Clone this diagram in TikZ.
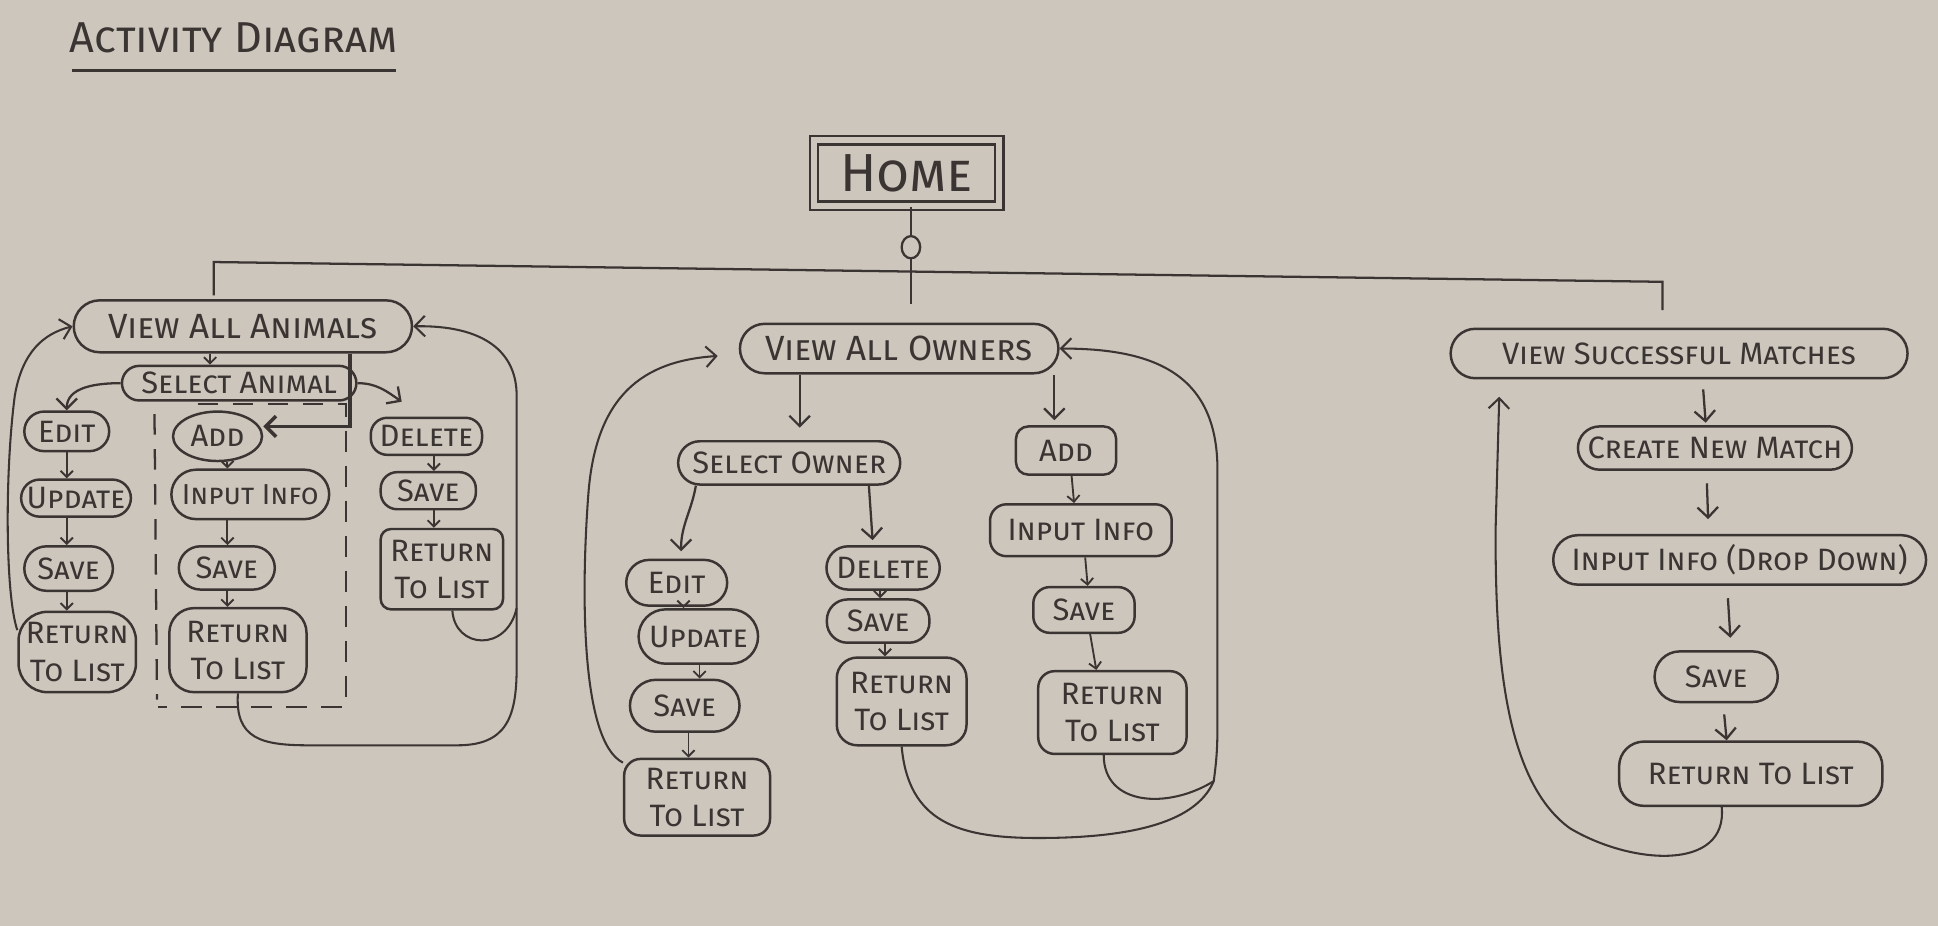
\documentclass[tikz,border=0pt]{standalone}
\usepackage{fontspec}
\setmainfont{Fira Sans}
\usetikzlibrary{arrows.meta,shapes.misc,shapes.geometric,calc}
\definecolor{paper}{RGB}{205,198,189}
\definecolor{ink}{RGB}{58,52,50}

% \abox[options]{name}{x1}{y1}{x2}{y2}{label}: a box spanning the given corners
\newcommand\abox[7][]{%
  \node[act,#1,minimum width={(#5-#3)*0.6pt},minimum height={(#6-#4)*0.6pt}]
    (#2) at ({(#3+#5)/2},{(#4+#6)/2}) {#7};}

\begin{document}
\begin{tikzpicture}[x=0.6pt,y=-0.6pt,
  act/.style={draw=ink, text=ink, line width=1.2pt, align=center, inner sep=1pt,
              font=\fontsize{15}{18}\selectfont\scshape},
  lg/.style={font=\fontsize{17}{20}\selectfont\scshape},
  sm/.style={font=\fontsize{14}{18}\selectfont\scshape},
  pill/.style={rounded rectangle},
  soft/.style={rectangle, rounded corners=#1},
  soft/.default=5pt,
  oval/.style={ellipse},
  wire/.style={draw=ink, line width=1.1pt},
  lane/.style={draw=ink, line width=1.1pt, dash pattern=on 10pt off 7pt},
  flow/.style={draw=ink, line width=1.1pt, -{Straight Barb[length=5pt,width=10pt]}},
  hop/.style={draw=ink, line width=0.9pt, -{Straight Barb[length=3pt,width=6pt]}},
  back/.style={draw=ink, line width=1pt, -{Straight Barb[length=5pt,width=10pt]}},
]
\useasboundingbox (0,0) rectangle (1568,749);
\fill[paper] (0,0) rectangle (1568,749);

% heading
\node[text=ink, font=\fontsize{21}{24}\selectfont\scshape, inner sep=0pt] (title) at (189,31) {Activity Diagram};
\draw[ink, line width=1.6pt] (58,57) -- (320,57);

% start node and the bus to the three lists
\node[draw=ink, text=ink, line width=1.1pt, double=paper, double distance=3pt,
      minimum width={150*0.6pt}, minimum height={53*0.6pt}, inner sep=0pt,
      font=\fontsize{26}{28}\selectfont\scshape] (home) at (733.5,140) {Home};
\node[draw=ink, line width=1.1pt, ellipse, inner sep=0pt,
      minimum width={15*0.6pt}, minimum height={18*0.6pt}] (junc) at (737,200) {};

% ---------------- animals ----------------
\abox[pill,lg]{vaa}{58}{243}{335}{285}{View All Animals}
\abox[pill]{sela}{97}{296}{290}{324}{Select Animal}
\abox[pill]{aedit}{18}{333}{90}{365}{Edit}
\abox[pill]{aupd}{18}{388}{105}{418}{Update}
\abox[pill]{asave1}{18}{442}{93}{478}{Save}
\abox[soft=14pt]{artl1}{15}{495}{110}{560}{Return\\To List}
\abox[oval]{aadd}{140}{333}{212}{373}{Add}
\abox[pill,sm]{ainp}{137}{380}{268}{420}{Input Info}
\abox[pill]{asave2}{143}{442}{224}{477}{Save}
\abox[soft=12pt]{artl2}{137}{492}{248}{560}{Return\\To List}
\abox[soft=8pt]{adel}{300}{338}{390}{368}{Delete}
\abox[soft=8pt]{asave3}{308}{382}{385}{412}{Save}
\abox[soft=5pt]{artl3}{308}{428}{407}{493}{Return\\To List}

% ---------------- owners ----------------
\abox[pill,lg]{vao}{597}{262}{858}{302}{View All Owners}
\abox[pill]{sown}{547}{357}{730}{392}{Select Owner}
\abox[pill]{oedit}{505}{453}{590}{490}{Edit}
\abox[pill]{oupd}{515}{493}{615}{537}{Update}
\abox[pill]{osave1}{508}{550}{600}{592}{Save}
\abox[soft=8pt]{ortl1}{505}{614}{623}{676}{Return\\To List}
\abox[pill]{odel}{667}{442}{762}{477}{Delete}
\abox[soft=10pt]{osave2}{669}{485}{752}{520}{Save}
\abox[soft=10pt]{ortl2}{677}{532}{782}{603}{Return\\To List}
\abox[soft=6pt]{oadd}{822}{345}{903}{384}{Add}
\abox[soft=8pt]{oinp}{801}{408}{948}{450}{Input Info}
\abox[soft=8pt]{osave3}{836}{475}{918}{512}{Save}
\abox[soft=8pt]{ortl3}{840}{543}{960}{610}{Return\\To List}

% ---------------- matches ----------------
\abox[pill]{vsm}{1172}{266}{1545}{306}{View Successful Matches}
\abox[pill]{cnm}{1275}{345}{1500}{380}{Create New Match}
\abox[pill]{minp}{1255}{433}{1560}{473}{Input Info (Drop Down)}
\abox[pill]{msave}{1337}{527}{1440}{568}{Save}
\abox[soft=12pt]{mrtl}{1310}{600}{1523}{652}{Return To List}

% bus from the start node
\coordinate (busL) at (173,212);
\coordinate (busR) at (1345,228);
\draw[wire] (home.south -| junc) -- (junc.north);
\draw[wire] (junc.south) -- ($(junc |- vao.north)+(0,-15)$);
\draw[wire] ($(busL |- vaa.north)+(0,-3)$) -- (busL) -- (busR) -- ($(busR |- vsm.north)+(0,-14)$);

% animals: dashed lane around the add steps
\draw[lane] (160,327) -- (280,327) -- (280,572) -- (128,572);
\draw[lane] (125,335) -- (127,566);

% animals: flow
\coordinate (ax) at (170,0);
\coordinate (addturn) at (283,345);
\draw[hop] (vaa.south -| ax) -- (sela.north -| ax);
\draw[flow] (sela.west) to[out=180,in=90] (aedit.north);
\draw[flow] (sela.east) to[out=0,in=145] ($(adel.north)+(-20,-12)$);
\draw[flow, line width=1.7pt] (vaa.south -| addturn) -- (addturn) -- (aadd.east |- addturn);
\draw[hop] (aedit.south) -- (aedit.south |- aupd.north);
\draw[hop] (aupd.south -| aedit) -- (asave1.north -| aedit);
\draw[hop] (asave1.south -| aedit) -- (artl1.north -| aedit);
\coordinate (ac) at (184,0);
\draw[hop] (aadd.south -| ac) -- (ainp.north -| ac);
\draw[hop] (ainp.south -| ac) -- (asave2.north -| ac);
\draw[hop] (asave2.south -| ac) -- (artl2.north -| ac);
\coordinate (dc) at (351,0);
\draw[hop] (adel.south -| dc) -- (asave3.north -| dc);
\draw[hop] (asave3.south -| dc) -- (artl3.north -| dc);

% animals: returns to the list
\draw[back] (artl1.160) .. controls (4,480) and (4,380) .. (12,320)
            .. controls (18,285) and (35,270) .. (vaa.west);
\coordinate (aj) at (418,492);
\draw[back] (artl2.south) .. controls (190,598) and (212,603) .. (250,603) -- (370,603)
            .. controls (410,603) and (418,580) .. (418,540) -- (aj) -- (418,320)
            .. controls (418,285) and (392,263) .. (vaa.east);
\draw[wire, line width=1pt] (artl3.south -| 366,0) .. controls (368,525) and (410,528) .. (aj);

% owners: flow
\coordinate (o1) at (647,0);
\coordinate (o2) at (853,0);
\draw[flow] (vao.south -| o1) -- ($(sown.north -| o1)+(0,-10)$);
\draw[flow] (vao.south -| o2) -- ($(oadd.north -| o2)+(0,-4)$);
\draw[flow] (sown.south -| 563,0) to[out=-100,in=90] ($(oedit.north -| 551,0)+(0,-6)$);
\draw[flow] (sown.south -| 703,0) -- ($(odel.north -| 706,0)+(0,-4)$);
\coordinate (oc) at (553,0);
\draw[hop] (oedit.south -| oc) -- (oupd.north -| oc);
\draw[hop] (oupd.south -| 566,0) -- (osave1.north -| 566,0);
\draw[hop] (osave1.south -| 557,0) -- (ortl1.north -| 557,0);
\draw[hop] (odel.south -| 712,0) -- (osave2.north -| 712,0);
\draw[hop] (osave2.south -| 716,0) -- (ortl2.north -| 716,0);
\draw[hop] (oadd.south -| 867,0) -- (oinp.north -| 869,0);
\draw[hop] (oinp.south -| 878,0) -- (osave3.north -| 880,0);
\draw[hop] (osave3.south -| 882,0) -- (ortl3.north -| 887,0);

% owners: returns to the list
\draw[back] (ortl1.155) .. controls (470,600) and (470,480) .. (476,400)
            .. controls (482,320) and (520,292) .. ($(vao.west)+(-17,6)$);
\coordinate (oj) at (982,632);
\draw[back] (ortl2.south) .. controls (735,665) and (775,678) .. (840,678)
            .. controls (930,678) and (970,660) .. (oj)
            .. controls (985,610) and (985,600) .. (985,580) -- (985,380)
            .. controls (985,300) and (930,282) .. (vao.east);
\draw[wire, line width=1pt] (ortl3.south -| 893,0) .. controls (893,652) and (945,655) .. (oj);

% matches: flow
\draw[flow] ($(vsm.south -| 1378,0)+(0,8)$) -- ($(cnm.north -| 1380,0)+(0,-2)$);
\draw[flow] ($(cnm.south -| 1381,0)+(0,10)$) -- ($(minp.north -| 1382,0)+(0,-12)$);
\draw[flow] ($(minp.south -| 1398,0)+(0,10)$) -- ($(msave.north -| 1400,0)+(0,-10)$);
\draw[flow] ($(msave.south -| 1395,0)+(0,9)$) -- (mrtl.north -| 1397,0);
\draw[back] (mrtl.south -| 1393,0) .. controls (1398,705) and (1320,700) .. (1270,670)
            .. controls (1215,630) and (1210,520) .. (1210,430)
            -- ($(vsm.south -| 1213,0)+(0,14)$);
\end{tikzpicture}
\end{document}
